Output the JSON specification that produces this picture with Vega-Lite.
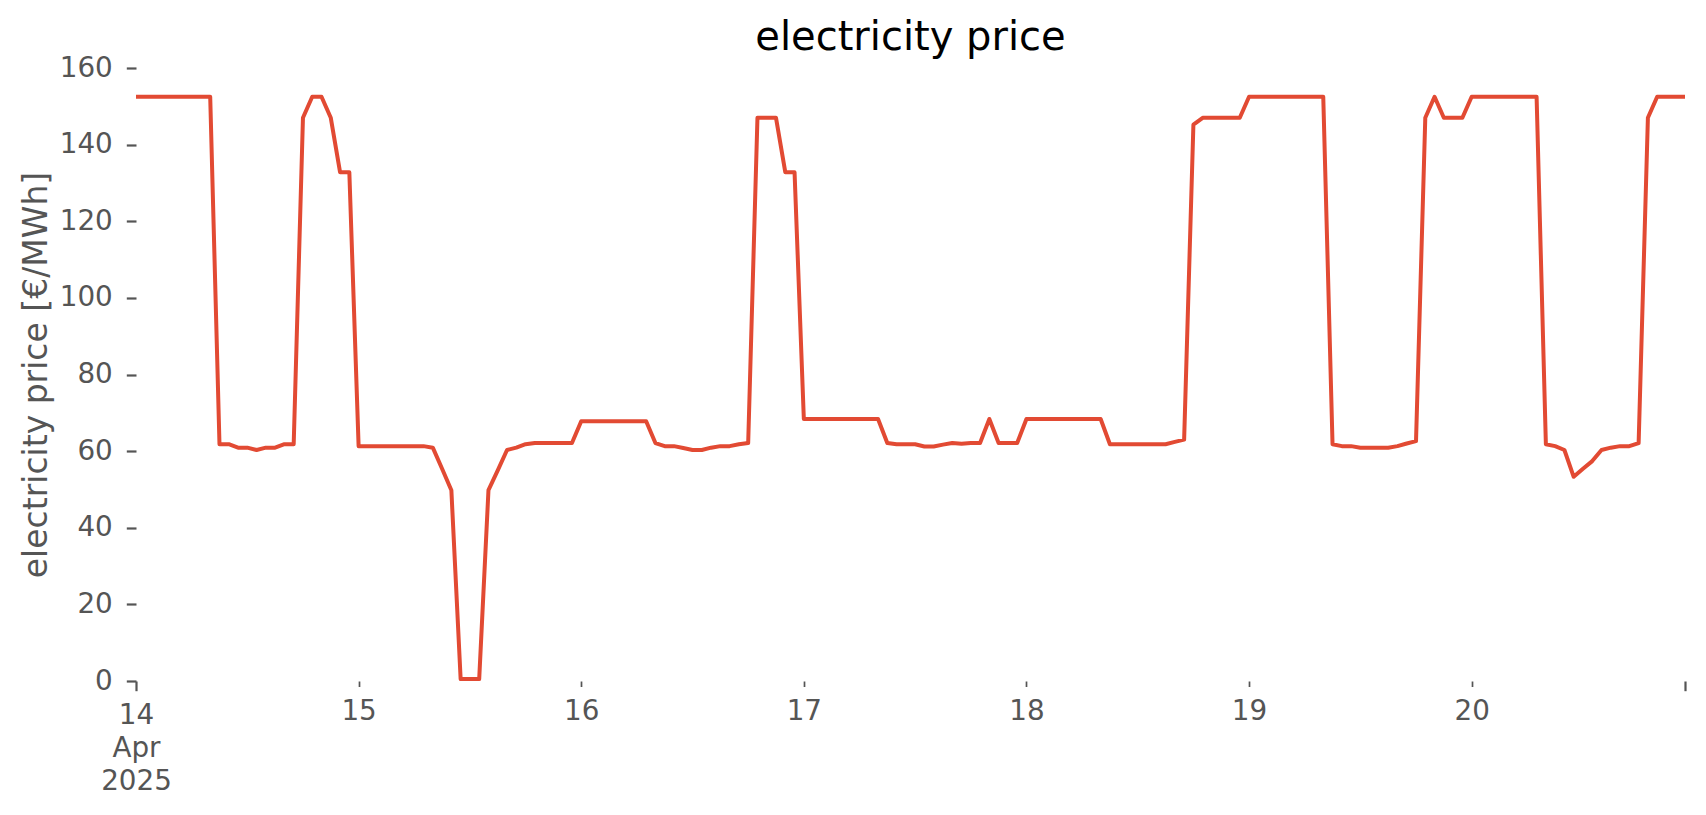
{
  "$schema": "https://vega.github.io/schema/vega-lite/v6.json",
  "width": 1549,
  "height": 613,
  "autosize": {"type": "none"},
  "padding": {"left": 136, "top": 68, "right": 21, "bottom": 134},
  "background": "white",
  "config": {
    "view": {"stroke": null},
    "font": "DejaVu Sans"
  },
  "title": {
    "text": "electricity price",
    "fontSize": 40,
    "font": "DejaVu Sans",
    "fontWeight": "normal",
    "color": "black",
    "anchor": "middle",
    "frame": "group",
    "baseline": "bottom",
    "offset": 10,
    "dy": 54
  },
  "data": {
    "values": [
      {"t":"2025-04-14T00:00Z","p":152.5},{"t":"2025-04-14T01:00Z","p":152.5},{"t":"2025-04-14T02:00Z","p":152.5},{"t":"2025-04-14T03:00Z","p":152.5},{"t":"2025-04-14T04:00Z","p":152.5},{"t":"2025-04-14T05:00Z","p":152.5},{"t":"2025-04-14T06:00Z","p":152.5},{"t":"2025-04-14T07:00Z","p":152.5},{"t":"2025-04-14T08:00Z","p":152.5},{"t":"2025-04-14T09:00Z","p":61.8},{"t":"2025-04-14T10:00Z","p":61.8},{"t":"2025-04-14T11:00Z","p":60.9},{"t":"2025-04-14T12:00Z","p":60.9},{"t":"2025-04-14T13:00Z","p":60.3},{"t":"2025-04-14T14:00Z","p":60.9},{"t":"2025-04-14T15:00Z","p":60.9},{"t":"2025-04-14T16:00Z","p":61.8},{"t":"2025-04-14T17:00Z","p":61.8},{"t":"2025-04-14T18:00Z","p":147.0},{"t":"2025-04-14T19:00Z","p":152.5},{"t":"2025-04-14T20:00Z","p":152.5},{"t":"2025-04-14T21:00Z","p":147.0},{"t":"2025-04-14T22:00Z","p":132.8},{"t":"2025-04-14T23:00Z","p":132.8},
      {"t":"2025-04-15T00:00Z","p":61.3},{"t":"2025-04-15T01:00Z","p":61.3},{"t":"2025-04-15T02:00Z","p":61.3},{"t":"2025-04-15T03:00Z","p":61.3},{"t":"2025-04-15T04:00Z","p":61.3},{"t":"2025-04-15T05:00Z","p":61.3},{"t":"2025-04-15T06:00Z","p":61.3},{"t":"2025-04-15T07:00Z","p":61.3},{"t":"2025-04-15T08:00Z","p":60.9},{"t":"2025-04-15T09:00Z","p":55.4},{"t":"2025-04-15T10:00Z","p":49.8},{"t":"2025-04-15T11:00Z","p":0.5},{"t":"2025-04-15T12:00Z","p":0.5},{"t":"2025-04-15T13:00Z","p":0.5},{"t":"2025-04-15T14:00Z","p":49.8},{"t":"2025-04-15T15:00Z","p":55.0},{"t":"2025-04-15T16:00Z","p":60.3},{"t":"2025-04-15T17:00Z","p":60.9},{"t":"2025-04-15T18:00Z","p":61.8},{"t":"2025-04-15T19:00Z","p":62.1},{"t":"2025-04-15T20:00Z","p":62.1},{"t":"2025-04-15T21:00Z","p":62.1},{"t":"2025-04-15T22:00Z","p":62.1},{"t":"2025-04-15T23:00Z","p":62.1},
      {"t":"2025-04-16T00:00Z","p":67.8},{"t":"2025-04-16T01:00Z","p":67.8},{"t":"2025-04-16T02:00Z","p":67.8},{"t":"2025-04-16T03:00Z","p":67.8},{"t":"2025-04-16T04:00Z","p":67.8},{"t":"2025-04-16T05:00Z","p":67.8},{"t":"2025-04-16T06:00Z","p":67.8},{"t":"2025-04-16T07:00Z","p":67.8},{"t":"2025-04-16T08:00Z","p":62.1},{"t":"2025-04-16T09:00Z","p":61.3},{"t":"2025-04-16T10:00Z","p":61.3},{"t":"2025-04-16T11:00Z","p":60.8},{"t":"2025-04-16T12:00Z","p":60.3},{"t":"2025-04-16T13:00Z","p":60.3},{"t":"2025-04-16T14:00Z","p":60.9},{"t":"2025-04-16T15:00Z","p":61.3},{"t":"2025-04-16T16:00Z","p":61.3},{"t":"2025-04-16T17:00Z","p":61.8},{"t":"2025-04-16T18:00Z","p":62.1},{"t":"2025-04-16T19:00Z","p":147.0},{"t":"2025-04-16T20:00Z","p":147.0},{"t":"2025-04-16T21:00Z","p":147.0},{"t":"2025-04-16T22:00Z","p":132.8},{"t":"2025-04-16T23:00Z","p":132.8},
      {"t":"2025-04-17T00:00Z","p":68.4},{"t":"2025-04-17T01:00Z","p":68.4},{"t":"2025-04-17T02:00Z","p":68.4},{"t":"2025-04-17T03:00Z","p":68.4},{"t":"2025-04-17T04:00Z","p":68.4},{"t":"2025-04-17T05:00Z","p":68.4},{"t":"2025-04-17T06:00Z","p":68.4},{"t":"2025-04-17T07:00Z","p":68.4},{"t":"2025-04-17T08:00Z","p":68.4},{"t":"2025-04-17T09:00Z","p":62.1},{"t":"2025-04-17T10:00Z","p":61.8},{"t":"2025-04-17T11:00Z","p":61.8},{"t":"2025-04-17T12:00Z","p":61.8},{"t":"2025-04-17T13:00Z","p":61.2},{"t":"2025-04-17T14:00Z","p":61.2},{"t":"2025-04-17T15:00Z","p":61.7},{"t":"2025-04-17T16:00Z","p":62.1},{"t":"2025-04-17T17:00Z","p":61.9},{"t":"2025-04-17T18:00Z","p":62.1},{"t":"2025-04-17T19:00Z","p":62.1},{"t":"2025-04-17T20:00Z","p":68.4},{"t":"2025-04-17T21:00Z","p":62.1},{"t":"2025-04-17T22:00Z","p":62.1},{"t":"2025-04-17T23:00Z","p":62.1},
      {"t":"2025-04-18T00:00Z","p":68.4},{"t":"2025-04-18T01:00Z","p":68.4},{"t":"2025-04-18T02:00Z","p":68.4},{"t":"2025-04-18T03:00Z","p":68.4},{"t":"2025-04-18T04:00Z","p":68.4},{"t":"2025-04-18T05:00Z","p":68.4},{"t":"2025-04-18T06:00Z","p":68.4},{"t":"2025-04-18T07:00Z","p":68.4},{"t":"2025-04-18T08:00Z","p":68.4},{"t":"2025-04-18T09:00Z","p":61.8},{"t":"2025-04-18T10:00Z","p":61.8},{"t":"2025-04-18T11:00Z","p":61.8},{"t":"2025-04-18T12:00Z","p":61.8},{"t":"2025-04-18T13:00Z","p":61.8},{"t":"2025-04-18T14:00Z","p":61.8},{"t":"2025-04-18T15:00Z","p":61.8},{"t":"2025-04-18T16:00Z","p":62.4},{"t":"2025-04-18T17:00Z","p":63.0},{"t":"2025-04-18T18:00Z","p":145.2},{"t":"2025-04-18T19:00Z","p":147.0},{"t":"2025-04-18T20:00Z","p":147.0},{"t":"2025-04-18T21:00Z","p":147.0},{"t":"2025-04-18T22:00Z","p":147.0},{"t":"2025-04-18T23:00Z","p":147.0},
      {"t":"2025-04-19T00:00Z","p":152.5},{"t":"2025-04-19T01:00Z","p":152.5},{"t":"2025-04-19T02:00Z","p":152.5},{"t":"2025-04-19T03:00Z","p":152.5},{"t":"2025-04-19T04:00Z","p":152.5},{"t":"2025-04-19T05:00Z","p":152.5},{"t":"2025-04-19T06:00Z","p":152.5},{"t":"2025-04-19T07:00Z","p":152.5},{"t":"2025-04-19T08:00Z","p":152.5},{"t":"2025-04-19T09:00Z","p":61.8},{"t":"2025-04-19T10:00Z","p":61.3},{"t":"2025-04-19T11:00Z","p":61.3},{"t":"2025-04-19T12:00Z","p":60.9},{"t":"2025-04-19T13:00Z","p":60.9},{"t":"2025-04-19T14:00Z","p":60.9},{"t":"2025-04-19T15:00Z","p":60.9},{"t":"2025-04-19T16:00Z","p":61.3},{"t":"2025-04-19T17:00Z","p":62.0},{"t":"2025-04-19T18:00Z","p":62.6},{"t":"2025-04-19T19:00Z","p":147.0},{"t":"2025-04-19T20:00Z","p":152.5},{"t":"2025-04-19T21:00Z","p":147.0},{"t":"2025-04-19T22:00Z","p":147.0},{"t":"2025-04-19T23:00Z","p":147.0},
      {"t":"2025-04-20T00:00Z","p":152.5},{"t":"2025-04-20T01:00Z","p":152.5},{"t":"2025-04-20T02:00Z","p":152.5},{"t":"2025-04-20T03:00Z","p":152.5},{"t":"2025-04-20T04:00Z","p":152.5},{"t":"2025-04-20T05:00Z","p":152.5},{"t":"2025-04-20T06:00Z","p":152.5},{"t":"2025-04-20T07:00Z","p":152.5},{"t":"2025-04-20T08:00Z","p":61.8},{"t":"2025-04-20T09:00Z","p":61.3},{"t":"2025-04-20T10:00Z","p":60.3},{"t":"2025-04-20T11:00Z","p":53.3},{"t":"2025-04-20T12:00Z","p":55.4},{"t":"2025-04-20T13:00Z","p":57.4},{"t":"2025-04-20T14:00Z","p":60.3},{"t":"2025-04-20T15:00Z","p":60.9},{"t":"2025-04-20T16:00Z","p":61.3},{"t":"2025-04-20T17:00Z","p":61.3},{"t":"2025-04-20T18:00Z","p":62.1},{"t":"2025-04-20T19:00Z","p":147.0},{"t":"2025-04-20T20:00Z","p":152.5},{"t":"2025-04-20T21:00Z","p":152.5},{"t":"2025-04-20T22:00Z","p":152.5},{"t":"2025-04-20T23:00Z","p":152.5}
    ]
  },
  "mark": {"type": "line", "color": "#E24A33", "strokeWidth": 4, "strokeJoin": "round", "strokeCap": "butt"},
  "encoding": {
    "x": {
      "field": "t",
      "type": "temporal",
      "scale": {"type": "utc", "domain": [1744588800000, 1745190000000], "nice": false},
      "axis": {
        "title": null,
        "domain": false,
        "grid": false,
        "values": [1744588800000, 1744675200000, 1744761600000, 1744848000000, 1744934400000, 1745020800000, 1745107200000, 1745190000000],
        "labelExpr": "time(datum.value) == 1744588800000 ? ['14','Apr','2025'] : (time(datum.value) == 1745190000000 ? '' : utcFormat(datum.value, '%-d'))",
        "labelFont": "DejaVu Sans",
        "labelFontSize": 27.8,
        "labelColor": "#555555",
        "labelLineHeight": 33,
        "labelPadding": 11,
        "labelOverlap": false,
        "labelFlush": false,
        "labelBound": false,
        "tickColor": "#555555",
        "tickWidth": {"condition": {"test": "time(datum.value) == 1744588800000 || time(datum.value) == 1745190000000", "value": 2.2}, "value": 1.7},
        "tickSize": {"condition": {"test": "time(datum.value) == 1744588800000 || time(datum.value) == 1745190000000", "value": 9.7}, "value": 5.5}
      }
    },
    "y": {
      "field": "p",
      "type": "quantitative",
      "scale": {"domain": [0, 160], "nice": false, "zero": true},
      "axis": {
        "title": "electricity price [€/MWh]",
        "titleFont": "DejaVu Sans",
        "titleFontSize": 33,
        "titleFontWeight": "normal",
        "titleColor": "#555555",
        "titlePadding": 6,
        "domain": false,
        "grid": false,
        "values": [0, 20, 40, 60, 80, 100, 120, 140, 160],
        "labelFont": "DejaVu Sans",
        "labelFontSize": 27.8,
        "labelColor": "#555555",
        "labelPadding": 14,
        "labelFlush": false,
        "labelBound": false,
        "labelOverlap": false,
        "tickColor": "#555555",
        "tickWidth": 2.2,
        "tickSize": 9.7
      }
    }
  }
}
